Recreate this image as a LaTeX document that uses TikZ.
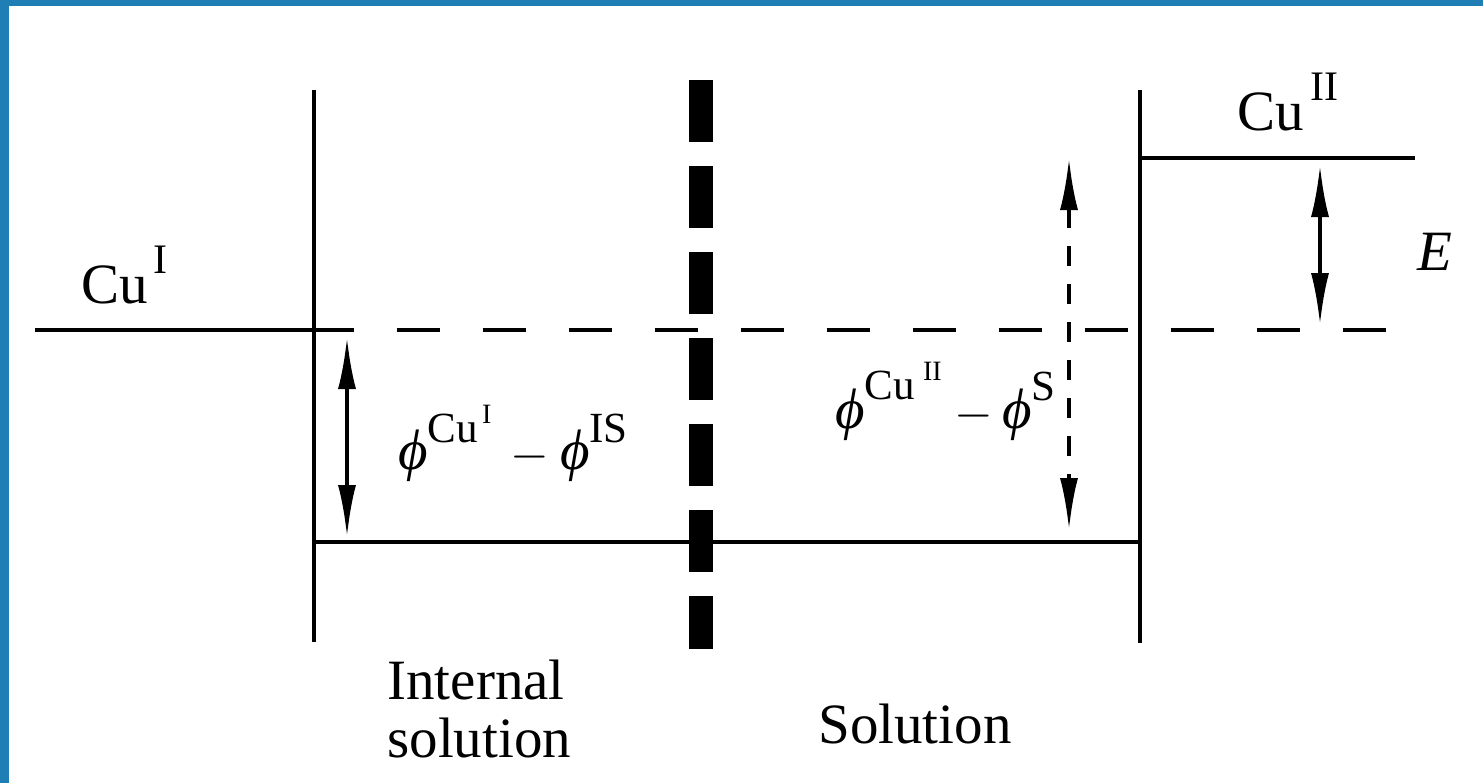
\documentclass[tikz,border=0pt]{standalone}
\usepackage{fontspec}
\setmainfont{Liberation Serif}
\usetikzlibrary{arrows.meta}
\definecolor{frameblue}{RGB}{31,127,180}
\newcommand\bigsup[1]{\raisebox{15pt}{\fontsize{21}{21}\selectfont #1}}
\newcommand\phisup[2]{\raisebox{#1}{\fontsize{21.5}{21.5}\selectfont #2}}
\newcommand\phisupsup[1]{\raisebox{9.5pt}{\fontsize{14}{14}\selectfont #1}}
\newcommand\myphi{{\itshape ϕ}}
\tikzset{
  lvl/.style={line width=2pt},
  ddash/.style={line width=2pt, dash pattern=on 21.5pt off 21.5pt},
  membrane/.style={line width=12pt, dash pattern=on 31pt off 12pt},
  dblarrow/.style={line width=2pt, {Latex[length=26pt,width=9pt]}-{Latex[length=26pt,width=9pt]}},
  dotarrow/.style={dblarrow, dash pattern=on 10pt off 9pt},
  lab/.style={anchor=base west, inner sep=0pt, font=\fontsize{28.5}{34}\selectfont}
}
\begin{document}
\begin{tikzpicture}[x=0.5pt,y=-0.5pt]
\path[use as bounding box, fill=white] (0,0) rectangle (1483,783);
\fill[frameblue] (0,0) rectangle (1483,6);
\fill[frameblue] (0,0) rectangle (9,783);
% coordinates
\coordinate (lt) at (314,90);
\coordinate (lb) at (314,642);
\coordinate (rt) at (1140,90);
\coordinate (rb) at (1140,643);
\coordinate (cuIa) at (35,330);
\coordinate (cuIb) at (314,330);
\coordinate (da) at (310.5,330);
\coordinate (db) at (1386,330);
\coordinate (ba) at (314,542);
\coordinate (bb) at (1140,542);
\coordinate (cuIIa) at (1140,158);
\coordinate (cuIIb) at (1415,158);
\coordinate (mt) at (701,80);
\coordinate (mb) at (701,649);
\coordinate (a1t) at (347,337);
\coordinate (a1b) at (347,537);
\coordinate (a2t) at (1069,158);
\coordinate (a2b) at (1069,530);
\coordinate (a3t) at (1320,165);
\coordinate (a3b) at (1320,325);
% lines
\draw[lvl] (lt) -- (lb);
\draw[lvl] (rt) -- (rb);
\draw[lvl] (cuIa) -- (cuIb);
\draw[ddash] (da) -- (db);
\draw[lvl] (ba) -- (bb);
\draw[lvl] (cuIIa) -- (cuIIb);
\draw[membrane] (mt) -- (mb);
% arrows
\draw[dblarrow] (a1t) -- (a1b);
\draw[dotarrow] (a2t) -- (a2b);
\draw[dblarrow] (a3t) -- (a3b);
% labels
\node[lab] (cuI) at (81,303) {Cu\hspace{3pt}\bigsup{I}};
\node[lab] (cuII) at (1237,130) {Cu\hspace{3.5pt}\bigsup{II}};
\node[lab] (E) at (1417,270) {\itshape E};
\node[lab] (phi1) at (398,469) {\myphi\phisup{13.5pt}{Cu\hspace{2pt}\phisupsup{I}}\hspace{9.5pt}$-$\hspace{5.5pt}\myphi\phisup{13.5pt}{IS}};
\node[lab] (phi2) at (835,428) {\myphi\phisup{14.5pt}{Cu\hspace{4pt}\phisupsup{II}}\hspace{6.5pt}$-$\hspace{4.5pt}\myphi\phisup{14pt}{S}};
\node[lab, align=left, anchor=base west] (intsol) at (387,757) {Internal\\[-5pt]solution};
\node[lab] (sol) at (818,743) {Solution};
\end{tikzpicture}
\end{document}
